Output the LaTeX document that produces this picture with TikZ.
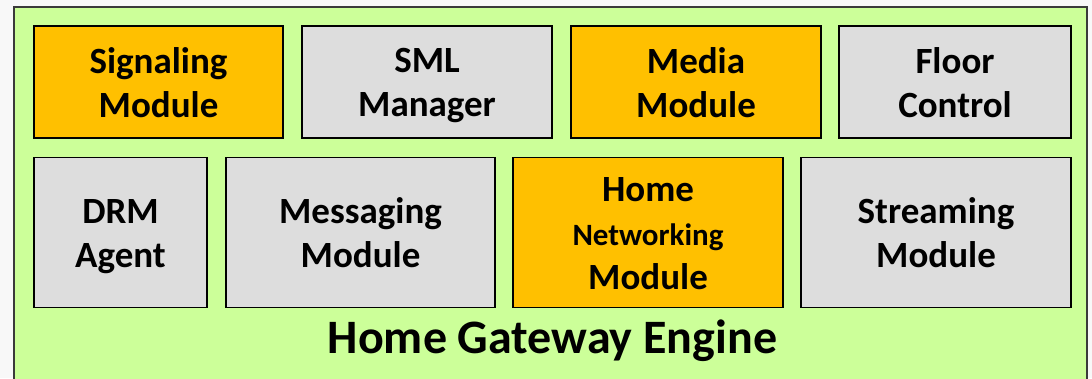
\documentclass[tikz,border=0pt]{standalone}
\usepackage{fontspec}
\setmainfont{Carlito}
\definecolor{engine}{HTML}{CCFF99}
\definecolor{hot}{HTML}{FFC000}
\definecolor{plain}{HTML}{DDDDDD}
\definecolor{page}{HTML}{F8F8F8}
\definecolor{rim}{HTML}{3A3A3A}
% fixed line strut so every box centres its text the same way
\newcommand\lstrut{\rule[-6pt]{0pt}{38pt}}
\tikzset{
  modbox/.style={draw=black, line width=1.6pt, minimum height=112pt,
    align=center, inner sep=0pt, font=\bfseries\fontsize{37}{44}\selectfont},
  tallbox/.style={modbox, minimum height=150pt},
}
\begin{document}
\begin{tikzpicture}[x=1pt, y=-1pt]
  \useasboundingbox (0,0) rectangle (1092,378);
  \clip (0,0) rectangle (1092,378);
  \fill[page] (0,0) rectangle (1092,378);
  % engine container, open at the bottom
  \draw[rim, line width=1.5pt, fill=engine] (14,7) rectangle (1087,400);

  % upper row
  \node[modbox, fill=hot,   minimum width=249pt] (sig)   at (158.5,82) {\lstrut Signaling\\\lstrut Module};
  \node[modbox, fill=plain, minimum width=250pt] (sml)   at (427,82)   {\lstrut SML\\\lstrut Manager};
  \node[modbox, fill=hot,   minimum width=250pt] (media) at (696,82)   {\lstrut Media\\\lstrut Module};
  \node[modbox, fill=plain, minimum width=232pt] (floor) at (955,82)   {\lstrut Floor\\\lstrut Control};

  % lower row
  \node[tallbox, fill=plain, minimum width=173pt] (drm)  at (120.5,232.5) {\lstrut DRM\\\lstrut Agent};
  \node[tallbox, fill=plain, minimum width=269pt] (msg)  at (360.5,232.5) {\lstrut Messaging\\\lstrut Module};
  \node[tallbox, fill=hot,   minimum width=270pt] (home) at (648,232.5)
    {\lstrut Home\\{\fontsize{31}{44}\selectfont\lstrut Networking}\\\lstrut Module};
  \node[tallbox, fill=plain, minimum width=270pt] (strm) at (936,232.5) {\lstrut Streaming\\\lstrut Module};

  \node[font=\bfseries\fontsize{48}{56}\selectfont, inner sep=0pt, anchor=base] (title) at (552.5,353) {Home Gateway Engine};
\end{tikzpicture}
\end{document}
